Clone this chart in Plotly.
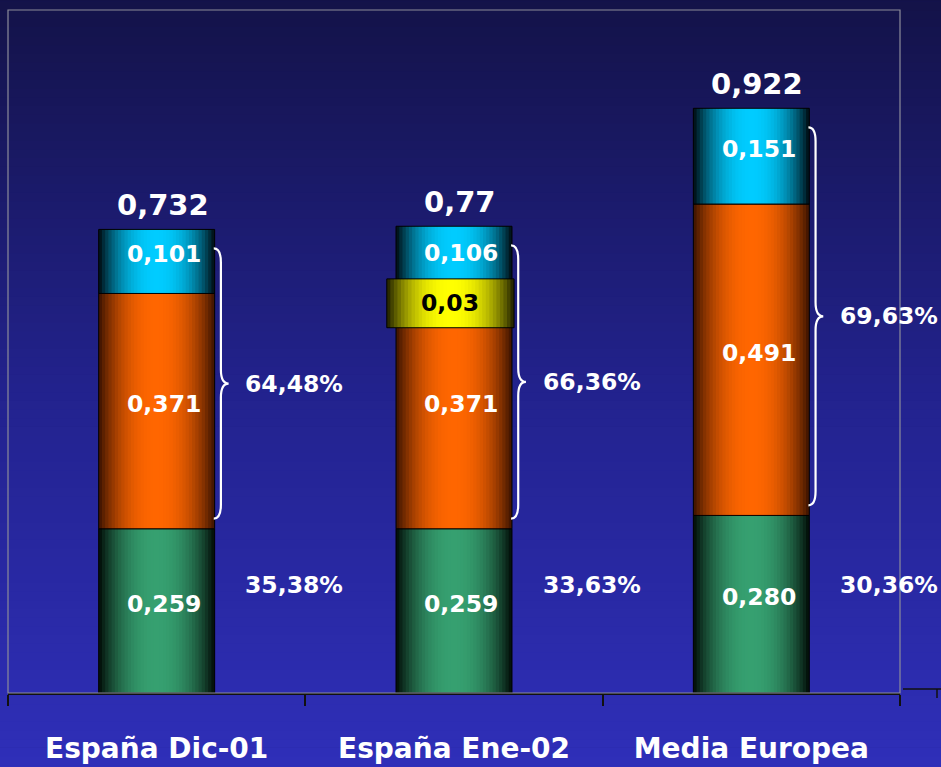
import plotly.graph_objects as go

# ---------------- data ----------------
categories = ["España Dic-01", "España Ene-02", "Media Europea"]
green_vals = [0.259, 0.259, 0.280]
orange_vals = [0.371, 0.371, 0.491]
cyan_vals = [0.101, 0.106, 0.151]
yellow_label_val = 0.03          # extra piece shown on the middle bar
yellow_category = categories[1]
totals = [0.732, 0.77, 0.922]
total_decimals = [3, 2, 3]
pct_upper = [64.48, 66.36, 69.63]
pct_lower = [35.38, 33.63, 30.36]

# ---------------- styles ----------------
BAR_W = 0.39
YELLOW_W = 0.428
YELLOW_SHIFT = -0.012
YELLOW_BELOW = 0.054
YELLOW_H = 0.077
FONT = "DejaVu Sans"
Y_MAX = 1.077


def fmt(v, d):
    return f"{v:.{d}f}".replace(".", ",")


def hex2rgb(h):
    h = h.lstrip("#")
    return tuple(int(h[i:i + 2], 16) for i in (0, 2, 4))


def mix(c1, c2, f):
    a, b = hex2rgb(c1), hex2rgb(c2)
    return "rgb(%d,%d,%d)" % tuple(round(a[i] + (b[i] - a[i]) * f) for i in range(3))


fig = go.Figure()


def add_cylinder(xs, ys, bases, width, edge, bright, shift=0.0, K=18):
    for k in range(K):
        frac = (K - k) / K
        w = width * frac
        t = (K - k - 0.5) / K
        f = 1 - t ** 2.2
        fig.add_trace(go.Bar(
            x=xs, y=ys, base=bases, width=w, offset=shift - w / 2,
            marker=dict(color=mix(edge, bright, f), line=dict(width=0)),
            hoverinfo="skip", showlegend=False))
    fig.add_trace(go.Bar(
        x=xs, y=ys, base=bases, width=width, offset=shift - width / 2,
        marker=dict(color="rgba(0,0,0,0)", line=dict(width=1, color="#000000")),
        hoverinfo="skip", showlegend=False))


orange_base = list(green_vals)
cyan_base = [g + o for g, o in zip(green_vals, orange_vals)]
stack_top = [c + v for c, v in zip(cyan_base, cyan_vals)]

add_cylinder(categories, green_vals, [0, 0, 0], BAR_W, "#010a06", "#36a070")
add_cylinder(categories, orange_vals, orange_base, BAR_W, "#3a1200", "#ff6600")
add_cylinder(categories, cyan_vals, cyan_base, BAR_W, "#00090f", "#00ccff")

yi = categories.index(yellow_category)
add_cylinder([yellow_category], [YELLOW_H], [cyan_base[yi] - YELLOW_BELOW],
             YELLOW_W, "#1c1c00", "#ffff00", shift=YELLOW_SHIFT)

annotations = []
shapes = []

# background gradient bands (paper coords)
top_c, mid_c, bot_c = "#131247", "#22228c", "#2f2fba"
yb, yt = -74 / 683 - 0.01, 1 + 10 / 683 + 0.01
N = 90
for i in range(N):
    y0 = yb + (yt - yb) * i / N
    y1 = yb + (yt - yb) * (i + 1) / N + 0.001
    s = 1 - (i + 0.5) / N  # 0 at top, 1 at bottom
    if s < 0.5:
        col = mix(top_c, mid_c, s / 0.5)
    else:
        col = mix(mid_c, bot_c, (s - 0.5) / 0.5)
    shapes.append(dict(type="rect", xref="paper", yref="paper",
                       x0=-0.05, x1=1.1, y0=y0, y1=y1,
                       fillcolor=col, line=dict(width=0), layer="below"))

# frame
shapes.append(dict(type="rect", xref="paper", yref="paper", x0=0, x1=1, y0=0, y1=1,
                   line=dict(color="#8c8c9a", width=1.2), fillcolor="rgba(0,0,0,0)",
                   layer="above"))
# stray axis fragment at bottom right
shapes.append(dict(type="line", xref="paper", yref="paper",
                   x0=(903 - 8) / 892, x1=1.06, y0=4 / 683, y1=4 / 683,
                   line=dict(color="#111111", width=1.5)))
shapes.append(dict(type="line", xref="paper", yref="paper",
                   x0=(937 - 8) / 892, x1=(937 - 8) / 892, y0=4 / 683, y1=-5 / 683,
                   line=dict(color="#111111", width=1.5)))

white = "#ffffff"
seg_font = dict(family=FONT, size=23.5, color=white, weight="bold")
pct_font = dict(family=FONT, size=23.5, color=white, weight="bold")

for i, cat in enumerate(categories):
    # segment labels
    for base, val in ((0, green_vals[i]), (orange_base[i], orange_vals[i]),
                      (cyan_base[i], cyan_vals[i])):
        annotations.append(dict(x=i + 0.025, y=base + val / 2, xref="x", yref="y",
                                text=fmt(val, 3), showarrow=False, font=seg_font,
                                yshift=7))
    # totals
    annotations.append(dict(x=i + 0.02, y=stack_top[i], xref="x", yref="y",
                            text=fmt(totals[i], total_decimals[i]), showarrow=False,
                            font=dict(family=FONT, size=29, color=white, weight="bold"),
                            yanchor="bottom", yshift=5))
    # brace over orange + cyan
    y_bot = orange_base[i] + 0.016
    y_top = stack_top[i] - 0.03
    ym = (y_bot + y_top) / 2
    x0 = i + BAR_W / 2 - 0.003
    xs = i + BAR_W / 2 + 0.021
    xt = i + BAR_W / 2 + 0.047
    d, d2 = 0.022, 0.022
    path = (f"M {x0},{y_top} Q {xs},{y_top} {xs},{y_top - d} "
            f"L {xs},{ym + d2} Q {xs},{ym} {xt},{ym} "
            f"Q {xs},{ym} {xs},{ym - d2} "
            f"L {xs},{y_bot + d} Q {xs},{y_bot} {x0},{y_bot}")
    shapes.append(dict(type="path", xref="x", yref="y", path=path,
                       line=dict(color=white, width=2.2)))
    annotations.append(dict(x=i + 0.463, y=ym, xref="x", yref="y",
                            text=fmt(pct_upper[i], 2) + "%", showarrow=False,
                            font=pct_font))
    annotations.append(dict(x=i + 0.463, y=0.17, xref="x", yref="y",
                            text=fmt(pct_lower[i], 2) + "%", showarrow=False,
                            font=pct_font))

# yellow label
annotations.append(dict(x=yi + YELLOW_SHIFT, y=cyan_base[yi] - YELLOW_BELOW + YELLOW_H / 2,
                        xref="x", yref="y", text=fmt(yellow_label_val, 2), showarrow=False,
                        font=dict(family=FONT, size=23.5, color="#000000", weight="bold")))

fig.update_layout(
    width=941, height=767,
    margin=dict(l=8, r=41, t=10, b=74, autoexpand=False),
    barmode="overlay",
    paper_bgcolor="#1f1f80",
    plot_bgcolor="rgba(0,0,0,0)",
    showlegend=False,
    shapes=shapes,
    annotations=annotations,
    xaxis=dict(type="category", categoryorder="array", categoryarray=categories,
               range=[-0.5, 2.5], tickson="boundaries", ticks="outside", ticklen=11,
               tickcolor="#111111", tickwidth=1.5, showline=True, linecolor="#111111",
               linewidth=1.5, showgrid=False, zeroline=False, automargin=False,
               tickfont=dict(family=FONT, size=28, color=white, weight="bold"),
               ticklabelstandoff=30),
    yaxis=dict(range=[0, Y_MAX], visible=False, showgrid=False, zeroline=False),
)

fig.write_html(
    "out.html",
    config={"displayModeBar": False},
    post_script="document.body.style.margin='0';document.body.style.overflow='hidden';"
                "document.body.style.background='#2f2fba';",
)
